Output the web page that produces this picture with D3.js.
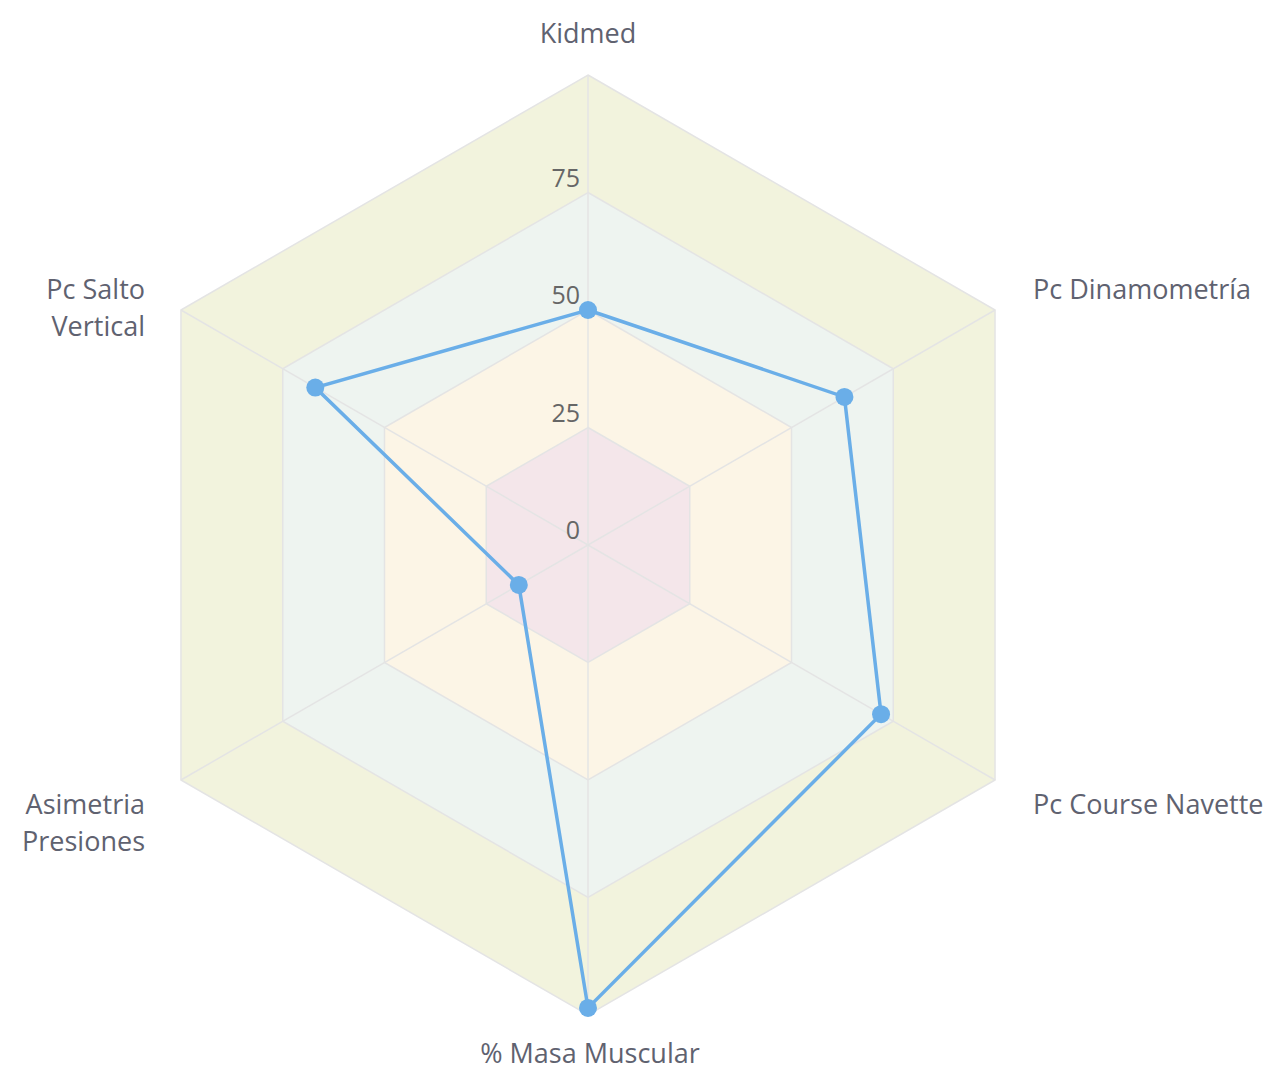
<!DOCTYPE html>
<html lang="es">
<head>
<meta charset="UTF-8">
<script src="https://cdn.jsdelivr.net/npm/d3@7"></script>
<style>
    body { margin: 0; background: #fff; }
    svg { display: block; }
    .lbl { font-family: "Open Sans", sans-serif; font-size: 27px; fill: #5f6270; }
    .tick { font-family: "Open Sans", sans-serif; font-size: 25px; fill: #666; }
</style>
</head>
<body>
<svg id="chart" width="1286" height="1071"></svg>
<script>
    // axes and values
    var axes = ["Kidmed", "Pc Dinamometría", "Pc Course Navette", "% Masa Muscular", "Asimetria Presiones", "Pc Salto Vertical"];
    var values = [50, 63, 72, 98.5, 17, 67];
    var ticks = [0, 25, 50, 75];
    var ringFills = ["#f4e6ea", "#fcf5e6", "#eef4f0", "#f2f3dd"];

    var cx = 588, cy = 545, R = 470;
    var svg = d3.select("#chart");

    var r = d3.scaleLinear().domain([0, 100]).range([0, R]);
    var angle = d3.scaleLinear().domain([0, axes.length]).range([0, 2 * Math.PI]);

    function pt(i, v) {
        var a = angle(i) - Math.PI / 2;
        return [cx + r(v) * Math.cos(a), cy + r(v) * Math.sin(a)];
    }

    // rings, drawn from outside in
    var levels = [100, 75, 50, 25];
    svg.append("g").selectAll("polygon")
        .data(levels)
        .enter().append("polygon")
        .attr("points", function(l) { return axes.map(function(a, i) { return pt(i, l).join(","); }).join(" "); })
        .attr("fill", function(l, i) { return ringFills[3 - i]; })
        .attr("stroke", "#e4e4e4")
        .attr("stroke-width", 1.5);

    // spokes
    svg.append("g").selectAll("line")
        .data(axes)
        .enter().append("line")
        .attr("x1", cx).attr("y1", cy)
        .attr("x2", function(d, i) { return pt(i, 100)[0]; })
        .attr("y2", function(d, i) { return pt(i, 100)[1]; })
        .attr("stroke", "#e4e4e4")
        .attr("stroke-width", 1.5);

    // tick labels
    svg.append("g").selectAll("text")
        .data(ticks)
        .enter().append("text")
        .attr("class", "tick")
        .attr("x", cx - 8)
        .attr("y", function(t) { return cy - r(t) - 6; })
        .attr("text-anchor", "end")
        .text(function(t) { return t; });

    // axis labels
    var lblPos = [
        { x: cx, y: 43, anchor: "middle" },
        { x: 1033, y: 299, anchor: "start" },
        { x: 1033, y: 814, anchor: "start" },
        { x: cx + 2, y: 1063, anchor: "middle" },
        { x: 145, y: 814, anchor: "end" },
        { x: 145, y: 299, anchor: "end" }
    ];
    var lg = svg.append("g");
    axes.forEach(function(name, i) {
        var p = lblPos[i];
        var lines = (i == 4) ? ["Asimetria", "Presiones"] : (i == 5) ? ["Pc Salto", "Vertical"] : [name];
        var t = lg.append("text").attr("class", "lbl")
            .attr("x", p.x).attr("y", p.y)
            .attr("text-anchor", p.anchor);
        lines.forEach(function(s, k) {
            t.append("tspan").attr("x", p.x).attr("dy", k == 0 ? 0 : 37).text(s);
        });
    });

    // data polygon
    var line = d3.line().curve(d3.curveLinearClosed);
    svg.append("path")
        .datum(values.map(function(v, i) { return pt(i, v); }))
        .attr("d", line)
        .attr("fill", "none")
        .attr("stroke", "#6aaee8")
        .attr("stroke-width", 3.5);

    svg.append("g").selectAll("circle")
        .data(values)
        .enter().append("circle")
        .attr("cx", function(v, i) { return pt(i, v)[0]; })
        .attr("cy", function(v, i) { return pt(i, v)[1]; })
        .attr("r", 9)
        .attr("fill", "#6aaee8");
</script>
</body>
</html>
